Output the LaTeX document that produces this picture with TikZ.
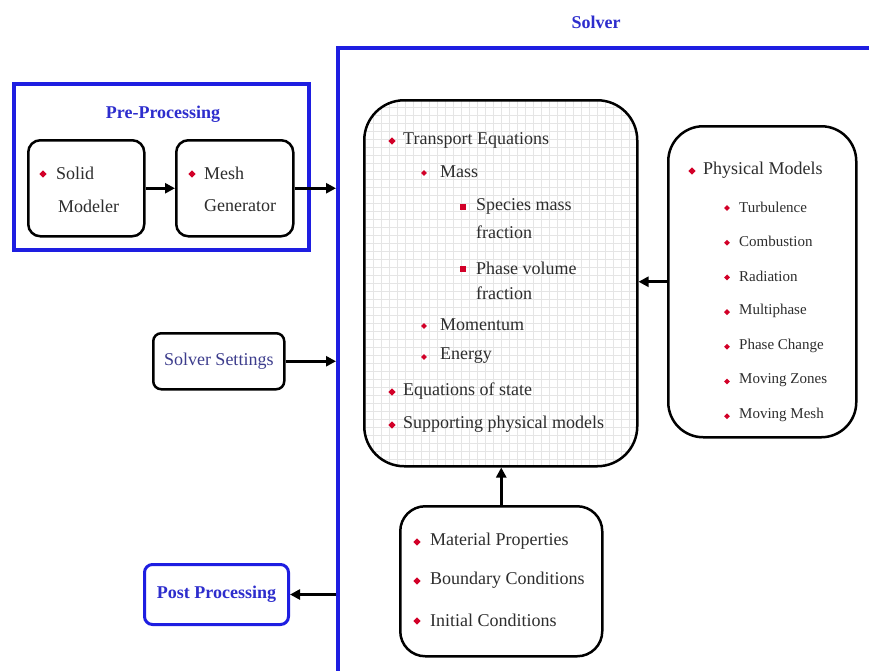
\documentclass[tikz,border=0pt]{standalone}
\usepackage{fontspec}
\setmainfont{Liberation Serif}
\usetikzlibrary{shapes.geometric,arrows.meta}
\definecolor{bblue}{RGB}{30,30,225}
\definecolor{tblue}{RGB}{45,45,205}
\definecolor{sblue}{RGB}{60,60,140}
\definecolor{bred}{RGB}{210,0,40}
\definecolor{txt}{RGB}{45,45,45}
\begin{document}
\begin{tikzpicture}[x=1pt,y=-1pt,
 blk/.style={draw=black, line width=2.5pt, fill=white, inner sep=0pt, anchor=north west},
 bluebox/.style={draw=bblue, line width=3.5pt, inner sep=0pt, anchor=north west},
 dia/.style={diamond, fill=bred, inner sep=0pt, minimum size=7.5pt},
 sdia/.style={diamond, fill=bred, inner sep=0pt, minimum size=6pt},
 sq/.style={rectangle, fill=bred, inner sep=0pt, minimum size=5.5pt},
 lt/.style={anchor=west, inner sep=0pt, text=txt, font=\fontsize{18}{20}\selectfont},
 st/.style={anchor=west, inner sep=0pt, text=txt, font=\fontsize{15}{17}\selectfont},
 arr/.style={line width=2.6pt, -{Triangle[length=10pt,width=10pt]}},
 ttl/.style={text=tblue, inner sep=0pt, font=\bfseries\fontsize{18}{20}\selectfont}]
\useasboundingbox (0,0) rectangle (869,670);

% Solver frame
\node[bluebox, minimum width=560, minimum height=660] (solver) at (336,46) {};
\node[ttl] (solvert) at (596,22) {Solver};

% Pre-processing
\node[bluebox, minimum width=295, minimum height=166] (pre) at (12,82) {};
\node[ttl] (pret) at (163,114) {Pre-Processing};
\node[blk, rounded corners=12pt, minimum width=116, minimum height=96] (solid) at (27,139) {};
\node[blk, rounded corners=12pt, minimum width=117, minimum height=96] (mesh) at (175,139) {};
\node[dia] (sb) at (43,174) {};
\node[lt] (st1) at (56,173) {Solid};
\node[lt] (st2) at (58,206) {Modeler};
\node[dia] (mb) at (192,174) {};
\node[lt] (mt1) at (204,173) {Mesh};
\node[lt] (mt2) at (204,206) {Generator};

% Solver settings
\node[blk, rounded corners=8pt, minimum width=131, minimum height=56] (set) at (152,332) {};
\node[text=sblue, inner sep=0pt, font=\fontsize{18}{20}\selectfont] (sett) at (set.center) {Solver Settings};

% Post processing
\node[draw=bblue, line width=3pt, fill=white, inner sep=0pt, anchor=north west, rounded corners=8pt, minimum width=144, minimum height=60] (post) at (143,563) {};
\node[ttl] (postt) at (post.center) {Post Processing};

% Transport equations
\node[blk, rounded corners=40pt, minimum width=273, minimum height=366,
  path picture={\draw[black!10, line width=0.5pt, step=8pt] (path picture bounding box.south west) grid (path picture bounding box.north east);}] (trans) at (363,99) {};
\node[dia] (tb1) at (392,141) {};
\node[lt] (tt1) at (403,140) {Transport Equations};
\node[sdia] (tb2) at (424,173) {};
\node[lt] (tt2) at (440,172) {Mass};
\node[sq] (tb3) at (463,207) {};
\node[lt] (tt3a) at (476,206) {Species mass};
\node[lt] (tt3b) at (476,232) {fraction};
\node[sq] (tb4) at (463,269) {};
\node[lt] (tt4a) at (476,268) {Phase volume};
\node[lt] (tt4b) at (476,293) {fraction};
\node[sdia] (tb5) at (424,326) {};
\node[lt] (tt5) at (440,325) {Momentum};
\node[sdia] (tb6) at (424,357) {};
\node[lt] (tt6) at (440,356) {Energy};
\node[dia] (tb7) at (392,392) {};
\node[lt] (tt7) at (403,391) {Equations of state};
\node[dia] (tb8) at (392,425) {};
\node[lt] (tt8) at (403,424) {Supporting physical models};

% Physical models
\node[blk, rounded corners=35pt, minimum width=188, minimum height=311] (phys) at (667,125) {};
\node[dia] (pb0) at (692,171) {};
\node[lt] (pt0) at (703,170) {Physical Models};
\foreach \t [count=\i] in {Turbulence, Combustion, Radiation, Multiphase, Phase Change, Moving Zones, Moving Mesh} {
  \pgfmathsetmacro\yy{207+34.7*(\i-1)}
  \node[sdia] (pb\i) at (727,\yy+1) {};
  \node[st] (pt\i) at (739,\yy) {\t};
}

% Material properties
\node[blk, rounded corners=25pt, minimum width=202, minimum height=150] (mat) at (399,505) {};
\node[dia] (mb1) at (417,542) {};
\node[lt] (mt1x) at (430,541) {Material Properties};
\node[dia] (mb2) at (417,581) {};
\node[lt] (mt2x) at (430,580) {Boundary Conditions};
\node[dia] (mb3) at (417,621) {};
\node[lt] (mt3x) at (430,620) {Initial Conditions};

% Connectors
\draw[arr] (solid.east) -- (mesh.west);
\draw[arr] (mesh.east) -- (mesh.east -| solver.west);
\draw[arr] (set.east) -- (set.east -| solver.west);
\draw[arr] (post.east -| solver.west) -- (post.east);
\draw[arr] (phys.west) -- (phys.west -| trans.east);
\draw[arr] (mat.north) -- (mat.north |- trans.south);
\end{tikzpicture}
\end{document}
